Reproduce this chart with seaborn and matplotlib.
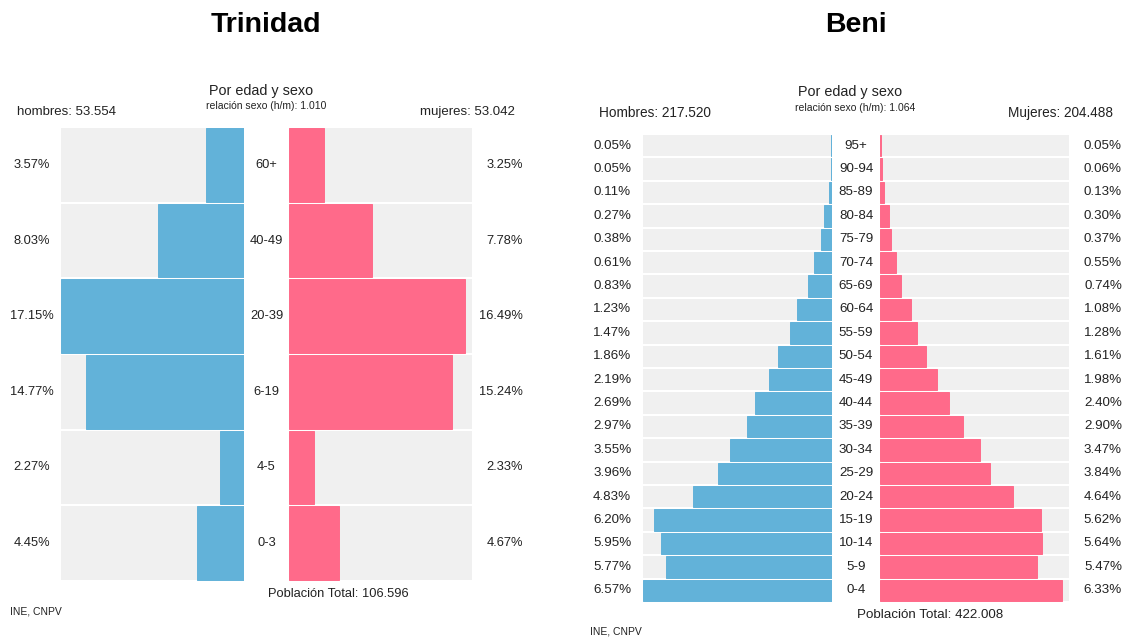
import matplotlib
matplotlib.use("Agg")
import matplotlib.pyplot as plt
import matplotlib.transforms as mtransforms
import seaborn as sns

sns.set_theme(style="white")
plt.rcParams["font.family"] = ["Liberation Sans", "DejaVu Sans"]

# Datos: Trinidad
trin_ages = ["60+", "40-49", "20-39", "6-19", "4-5", "0-3"]
trin_hombres = [3.57, 8.03, 17.15, 14.77, 2.27, 4.45]
trin_mujeres = [3.25, 7.78, 16.49, 15.24, 2.33, 4.67]

# Datos: Beni
beni_ages = ["95+", "90-94", "85-89", "80-84", "75-79", "70-74", "65-69",
             "60-64", "55-59", "50-54", "45-49", "40-44", "35-39", "30-34",
             "25-29", "20-24", "15-19", "10-14", "5-9", "0-4"]
beni_hombres = [0.05, 0.05, 0.11, 0.27, 0.38, 0.61, 0.83, 1.23, 1.47, 1.86,
                2.19, 2.69, 2.97, 3.55, 3.96, 4.83, 6.20, 5.95, 5.77, 6.57]
beni_mujeres = [0.05, 0.06, 0.13, 0.30, 0.37, 0.55, 0.74, 1.08, 1.28, 1.61,
                1.98, 2.40, 2.90, 3.47, 3.84, 4.64, 5.62, 5.64, 5.47, 6.33]

AZUL = "#62B2D9"
ROSA = "#FF6A8A"
GRIS = "#F0F0F0"

W, H = 1124, 638
fig = plt.figure(figsize=(W / 100, H / 100), dpi=100)
fig.patch.set_facecolor("white")


def px(x, y):
    return x / W, 1 - y / H


def eje(x0, x1, y0, y1):
    return fig.add_axes([x0 / W, 1 - y1 / H, (x1 - x0) / W, (y1 - y0) / H])


def mitad(ax, ages, valores, xmax, color, alto, invertir):
    fondo = [xmax] * len(ages)
    sns.barplot(x=fondo, y=ages, order=ages, color=GRIS, width=alto,
                orient="h", ax=ax, saturation=1, linewidth=0)
    # borde del mismo color para que las barras muy pequeñas se vean
    sns.barplot(x=valores, y=ages, order=ages, color=color, width=alto,
                orient="h", ax=ax, saturation=1, linewidth=0.7,
                edgecolor=color)
    ax.set_xlim(0, xmax)
    if invertir:
        ax.invert_xaxis()
    ax.set_ylim(len(ages) - 0.5, -0.5)
    ax.axis("off")


def piramide(ages, hombres, mujeres, caja, alto, textos):
    xl0, xl1, xr0, xr1, y0, y1 = caja
    xmax = max(max(hombres), max(mujeres))
    ax_h = eje(xl0, xl1, y0, y1)
    ax_m = eje(xr0, xr1, y0, y1)
    mitad(ax_h, ages, hombres, xmax, AZUL, alto, True)
    mitad(ax_m, ages, mujeres, xmax, ROSA, alto, False)

    tr = mtransforms.blended_transform_factory(fig.transFigure, ax_h.transData)
    fs = textos["fs"]
    for i, (age, h, m) in enumerate(zip(ages, hombres, mujeres)):
        fig.text((xl1 + xr0) / 2 / W, i, age, transform=tr, ha="center",
                 va="center", fontsize=fs, color="#222222")
        fig.text(textos["pct_l"] / W, i, f"{h:.2f}%", transform=tr,
                 ha=textos["pct_l_ha"], va="center", fontsize=fs, color="#222222")
        fig.text(textos["pct_r"] / W, i, f"{m:.2f}%", transform=tr,
                 ha="right", va="center", fontsize=fs, color="#222222")


piramide(trin_ages, trin_hombres, trin_mujeres,
         (61, 244, 289, 472, 127, 581), 0.975,
         {"fs": 9.3, "pct_l": 32, "pct_l_ha": "center", "pct_r": 523})
piramide(beni_ages, beni_hombres, beni_mujeres,
         (643, 832, 880, 1068.5, 134, 602), 0.91,
         {"fs": 9.6, "pct_l": 593, "pct_l_ha": "left", "pct_r": 1122})

# Textos Trinidad
fig.text(*px(266, 25), "Trinidad", ha="center", va="center",
         fontsize=20.5, fontweight="bold", color="black")
fig.text(*px(261, 91), "Por edad y sexo", ha="center", va="center",
         fontsize=10.4, color="#222222")
fig.text(*px(266, 106), "relación sexo (h/m): 1.010", ha="center", va="center",
         fontsize=7.5, color="#222222")
fig.text(*px(17, 112), "hombres: 53.554", ha="left", va="center",
         fontsize=9.5, color="#222222")
fig.text(*px(515, 112), "mujeres: 53.042", ha="right", va="center",
         fontsize=9.5, color="#222222")
fig.text(*px(338, 594), "Población Total: 106.596", ha="center", va="center",
         fontsize=9.3, color="#222222")
fig.text(*px(10, 611), "INE, CNPV", ha="left", va="center",
         fontsize=7.5, color="#222222")

# Textos Beni
fig.text(*px(856, 25), "Beni", ha="center", va="center",
         fontsize=20.5, fontweight="bold", color="black")
fig.text(*px(850, 92), "Por edad y sexo", ha="center", va="center",
         fontsize=10.4, color="#222222")
fig.text(*px(855, 108), "relación sexo (h/m): 1.064", ha="center", va="center",
         fontsize=7.5, color="#222222")
fig.text(*px(599, 113), "Hombres: 217.520", ha="left", va="center",
         fontsize=9.8, color="#222222")
fig.text(*px(1113, 113), "Mujeres: 204.488", ha="right", va="center",
         fontsize=9.8, color="#222222")
fig.text(*px(930, 615), "Población Total: 422.008", ha="center", va="center",
         fontsize=9.6, color="#222222")
fig.text(*px(590, 632), "INE, CNPV", ha="left", va="center",
         fontsize=7.5, color="#222222")

fig.savefig("out.png", dpi=100, facecolor="white")
